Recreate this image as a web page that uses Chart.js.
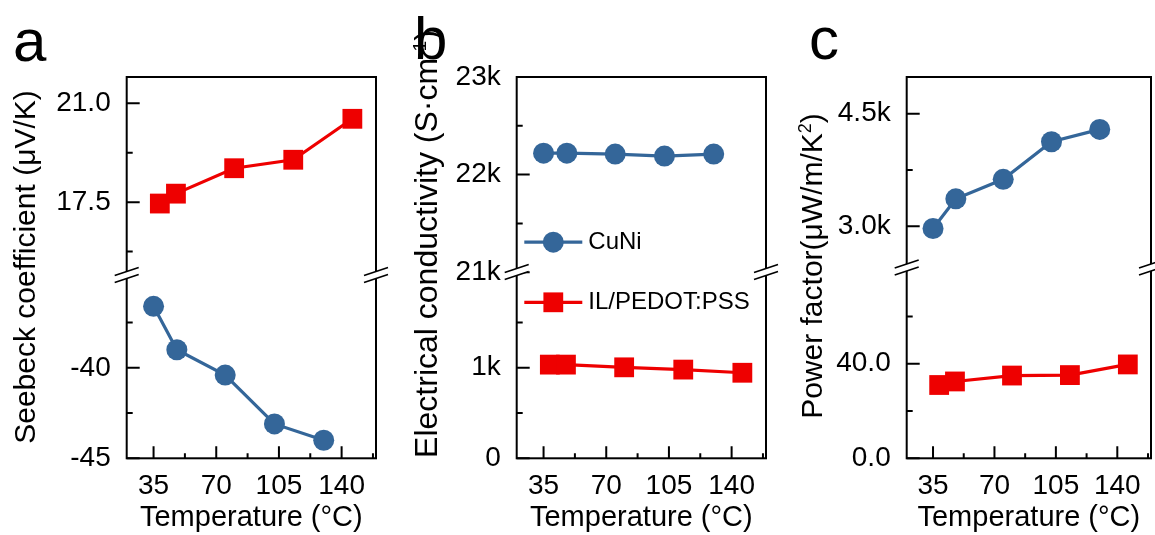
<!DOCTYPE html>
<html>
<head>
<meta charset="utf-8">
<script src="https://cdn.jsdelivr.net/npm/chart.js@4.4.0/dist/chart.umd.min.js"></script>
<style>
  html, body { margin: 0; padding: 0; background: #fff; overflow: hidden; }
  body { width: 1155px; height: 535px; position: relative; font-family: 'Liberation Sans', Arial, sans-serif; color: #000; }
  canvas { position: absolute; top: 0; }
  .letter { position: absolute; font-size: 60px; line-height: 1; }
  .ytitle { position: absolute; font-size: 30px; line-height: 1; white-space: nowrap;
            transform: translate(-50%, -50%) rotate(-90deg); }
  .ytitle sup { font-size: 0.6em; }
</style>
</head>
<body>
<canvas id="chartA" width="390" height="535" style="left:0px"></canvas>
<canvas id="chartB" width="390" height="535" style="left:390px"></canvas>
<canvas id="chartC" width="390" height="535" style="left:775px"></canvas>

<div class="letter" style="left:13px; top:11px">a</div>
<div class="letter" style="left:414px; top:9px">b</div>
<div class="letter" style="left:809px; top:9px">c</div>

<div class="ytitle" style="left:25px; top:267px">Seebeck coefficient (μV/K)</div>
<div class="ytitle" style="left:426px; top:244px; font-size:32px">Electrical conductivity (S·cm<sup>-1</sup>)</div>
<div class="ytitle" style="left:811px; top:266px">Power factor(μW/m/K<sup>2</sup>)</div>

<script>
// temperature (°C)
const tempCuNi = [35, 48, 75, 102.5, 130];
const tempPedot = [38.5, 47.5, 80, 113, 146];

// a: Seebeck coefficient (μV/K)
const seebeckCuNi = [-36.6, -39.0, -40.4, -43.1, -44.0];
const seebeckPedot = [17.45, 17.8, 18.7, 19.0, 20.45];

// b: electrical conductivity (S/cm)
const sigmaCuNi = [22220, 22220, 22210, 22190, 22210];
const sigmaPedot = [1035, 1035, 1005, 980, 945];

// c: power factor (μW/m/K²)
const pfCuNi = [2970, 3365, 3625, 4125, 4290];
const pfPedot = [31.0, 32.5, 35.0, 35.2, 39.7];

// tick values
const xMajor = [35, 70, 105, 140];
const xMinor = [52.5, 87.5, 122.5, 157.5];
const aTopMajor = [17.5, 21.0], aTopMinor = [15.75, 19.25];
const aBotMajor = [-45, -40], aBotMinor = [-42.5, -37.5];
const bTopMajor = [21000, 22000, 23000], bTopMinor = [21500, 22500];
const bBotMajor = [0, 1000], bBotMinor = [500, 1500];
const cTopMajor = [3000, 4500], cTopMinor = [3750];
const cBotMajor = [0, 40], cBotMinor = [20, 60];

const BLUE = '#346699';
const RED = '#ee0000';

Chart.defaults.font.family = "'Liberation Sans', Arial, sans-serif";
Chart.defaults.color = '#000';

function pts(xs, ys) {
  return xs.map((x, i) => ({x: x, y: ys[i]}));
}

function breakMark(ctx, x, y) {
  const hw = 12, rise = 4, gap = 3.5;
  ctx.fillStyle = '#fff';
  ctx.beginPath();
  ctx.moveTo(x - hw, y + rise - gap);
  ctx.lineTo(x + hw, y - rise - gap);
  ctx.lineTo(x + hw, y - rise + gap);
  ctx.lineTo(x - hw, y + rise + gap);
  ctx.closePath();
  ctx.fill();
  ctx.strokeStyle = '#000';
  ctx.lineWidth = 1.6;
  ctx.beginPath();
  ctx.moveTo(x - hw, y + rise - gap);
  ctx.lineTo(x + hw, y - rise - gap);
  ctx.moveTo(x - hw, y + rise + gap);
  ctx.lineTo(x + hw, y - rise + gap);
  ctx.stroke();
}

// frame, inward ticks, axis breaks and the hand-placed legend
const framePlugin = {
  id: 'frame',
  beforeDatasetsDraw(chart, args, opts) {
    const {ctx, chartArea: a, scales} = chart;
    ctx.save();
    ctx.strokeStyle = '#000';
    ctx.lineWidth = 2;
    ctx.strokeRect(a.left, a.top, a.right - a.left, a.bottom - a.top);

    ctx.beginPath();
    const line = (x1, y1, x2, y2) => { ctx.moveTo(x1, y1); ctx.lineTo(x2, y2); };
    xMajor.forEach(v => { const x = scales.x.getPixelForValue(v); line(x, a.bottom, x, a.bottom - 12); });
    xMinor.forEach(v => { const x = scales.x.getPixelForValue(v); line(x, a.bottom, x, a.bottom - 5); });
    ['yTop', 'yBot'].forEach(id => {
      const s = scales[id];
      opts.ticks[id][0].forEach(v => { const y = s.getPixelForValue(v); line(a.left, y, a.left + 13, y); });
      opts.ticks[id][1].forEach(v => { const y = s.getPixelForValue(v); line(a.left, y, a.left + 6, y); });
    });
    ctx.stroke();
    ctx.restore();
  },
  afterDatasetsDraw(chart, args, opts) {
    const {ctx, chartArea: a, scales} = chart;
    ctx.save();
    const y = scales.yTop.bottom + (opts.breakShift || 0);
    breakMark(ctx, a.left, y);
    breakMark(ctx, a.right, y);

    (opts.legend || []).forEach(item => {
      const ds = chart.data.datasets[item.ds];
      ctx.strokeStyle = ds.borderColor;
      ctx.fillStyle = ds.backgroundColor;
      ctx.lineWidth = ds.borderWidth;
      ctx.beginPath();
      ctx.moveTo(item.x1, item.y);
      ctx.lineTo(item.x2, item.y);
      ctx.stroke();
      const cx = (item.x1 + item.x2) / 2;
      ctx.beginPath();
      if (ds.pointStyle === 'rect') {
        const h = ds.pointRadius * Math.SQRT1_2;
        ctx.rect(cx - h, item.y - h, 2 * h, 2 * h);
      } else {
        ctx.arc(cx, item.y, ds.pointRadius, 0, Math.PI * 2);
      }
      ctx.fill();
      ctx.fillStyle = '#000';
      ctx.font = "24px 'Liberation Sans', Arial, sans-serif";
      ctx.textBaseline = 'middle';
      ctx.textAlign = 'left';
      ctx.fillText(ds.label, item.x2 + 6, item.y);
    });
    ctx.restore();
  }
};

function yScale(range, major, minor, fmt, weight, width) {
  return {
    type: 'linear',
    position: 'left',
    stack: 'y',
    stackWeight: weight,
    bounds: 'data',
    min: range[0],
    max: range[1],
    grid: {display: false, drawTicks: false},
    border: {display: false},
    ticks: {
      autoSkip: false,
      padding: 16,
      font: {size: 28},
      callback: v => major.includes(v) ? fmt(v) : ''
    },
    afterBuildTicks: s => { s.ticks = major.concat(minor).map(v => ({value: v})); },
    afterFit: s => { s.width = width; }
  };
}

function makePanel(id, p) {
  const cuni = {
    label: 'CuNi', data: pts(tempCuNi, p.cuni), yAxisID: p.cuniAxis,
    borderColor: BLUE, backgroundColor: BLUE, borderWidth: 3.2,
    pointStyle: 'circle', pointRadius: 10.5, pointBorderWidth: 0, clip: false
  };
  const pedot = {
    label: 'IL/PEDOT:PSS', data: pts(tempPedot, p.pedot), yAxisID: p.pedotAxis,
    borderColor: RED, backgroundColor: RED, borderWidth: 3.2,
    pointStyle: 'rect', pointRadius: 14, pointBorderWidth: 0, clip: false
  };
  return new Chart(document.getElementById(id), {
    type: 'line',
    data: {datasets: [cuni, pedot]},
    options: {
      responsive: false,
      animation: false,
      events: [],
      layout: {padding: {left: 0, right: p.right, top: 77, bottom: 0}},
      plugins: {
        legend: {display: false},
        tooltip: {enabled: false},
        frame: {ticks: p.ticks, legend: p.legend, breakShift: p.breakShift}
      },
      scales: {
        x: {
          type: 'linear',
          min: 20,
          max: 159.2,
          bounds: 'data',
          grid: {display: false, drawTicks: false},
          border: {display: false},
          ticks: {
            autoSkip: false,
            padding: 11,
            maxRotation: 0,
            font: {size: 28},
            callback: v => xMajor.includes(v) ? String(v) : ''
          },
          afterBuildTicks: s => { s.ticks = xMajor.concat(xMinor).map(v => ({value: v})); },
          afterFit: s => { s.height = 76.7; },
          title: {display: true, text: 'Temperature (°C)', font: {size: 29}, padding: 0}
        },
        yBot: yScale(p.botRange, p.ticks.yBot[0], p.ticks.yBot[1], p.botFmt, p.botWeight, p.left),
        yTop: yScale(p.topRange, p.ticks.yTop[0], p.ticks.yTop[1], p.topFmt, p.topWeight, p.left)
      }
    },
    plugins: [framePlugin]
  });
}

makePanel('chartA', {
  left: 126.7, right: 7.6,
  cuni: seebeckCuNi, cuniAxis: 'yBot',
  pedot: seebeckPedot, pedotAxis: 'yTop',
  topRange: [14.92, 21.93], topWeight: 198,
  botRange: [-45, -34.87], botWeight: 183.3,
  topFmt: v => v.toFixed(1), botFmt: v => String(v),
  ticks: {yTop: [aTopMajor, aTopMinor], yBot: [aBotMajor, aBotMinor]}
});

makePanel('chartB', {
  left: 126.7, right: 7.6,
  cuni: sigmaCuNi, cuniAxis: 'yTop',
  pedot: sigmaPedot, pedotAxis: 'yBot',
  topRange: [20982, 23000], topWeight: 197,
  botRange: [0, 2036], botWeight: 184.3,
  topFmt: v => (v / 1000) + 'k', botFmt: v => v === 0 ? '0' : (v / 1000) + 'k',
  ticks: {yTop: [bTopMajor, bTopMinor], yBot: [bBotMajor, bBotMinor]},
  breakShift: -2,
  legend: [
    {ds: 0, x1: 134.3, x2: 192.3, y: 242.2},
    {ds: 1, x1: 134.3, x2: 192.3, y: 302.3}
  ]
});

makePanel('chartC', {
  left: 131.7, right: 2.6,
  cuni: pfCuNi, cuniAxis: 'yTop',
  pedot: pfPedot, pedotAxis: 'yBot',
  topRange: [2450, 4988], topWeight: 190.5,
  botRange: [0, 80.7], botWeight: 190.8,
  topFmt: v => (v / 1000).toFixed(1) + 'k', botFmt: v => v.toFixed(1),
  ticks: {yTop: [cTopMajor, cTopMinor], yBot: [cBotMajor, cBotMinor]}
});
</script>
</body>
</html>
